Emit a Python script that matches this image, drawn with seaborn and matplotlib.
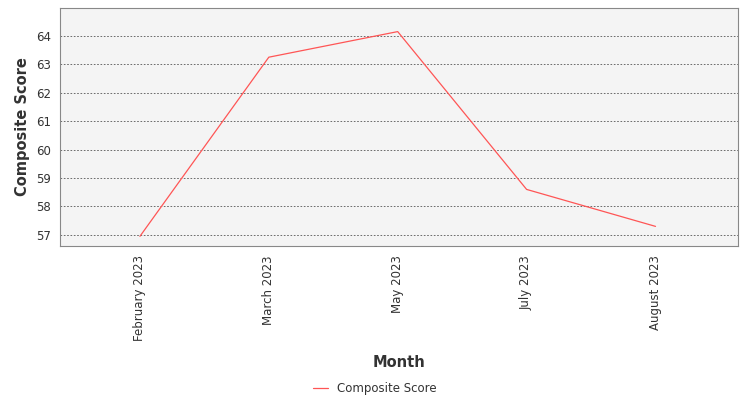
import matplotlib
matplotlib.use("Agg")
import matplotlib.pyplot as plt
import seaborn as sns
import pandas as pd

months = ["February 2023", "March 2023", "May 2023", "July 2023", "August 2023"]
scores = [56.95, 63.25, 64.15, 58.6, 57.3]

sns.set_style("white")
plt.rcParams['font.family'] = ['DejaVu Sans']
df = pd.DataFrame({"Month": months, "Composite Score": scores})

fig = plt.figure(figsize=(7.5, 4), dpi=100)
ax = fig.add_axes([0.08, 0.385, 0.904, 0.595])
ax.set_facecolor("#f4f4f4")
sns.lineplot(data=df, x="Month", y="Composite Score", ax=ax, color="#ff5555",
             linewidth=0.9, sort=False, label="Composite Score")
ax.set_xlim(-0.62, 4.64)
ax.set_ylim(56.61, 64.98)
ax.set_yticks(range(57, 65))
ax.yaxis.grid(True, color="#555555", linestyle=(0, (2, 2)), linewidth=0.6)
for s in ax.spines.values():
    s.set_color("#888888"); s.set_linewidth(0.8)
ax.tick_params(axis="x", rotation=90, labelsize=8.5, colors="#333333", length=3, width=0.6)
ax.tick_params(axis="y", labelsize=8.5, colors="#333333", length=3, width=0.6)
ax.set_xlabel("Month", fontsize=10.5, fontweight="semibold", color="#333333", labelpad=10)
ax.set_ylabel("Composite Score", fontsize=10.5, fontweight="semibold", color="#333333")
ax.legend_.remove()
h, l = ax.get_legend_handles_labels()
fig.legend(h, l, loc="lower center", bbox_to_anchor=(0.5, -0.015), frameon=False,
           fontsize=8.5, handlelength=1.2, labelcolor="#333333")
fig.savefig("out.png", dpi=100)
